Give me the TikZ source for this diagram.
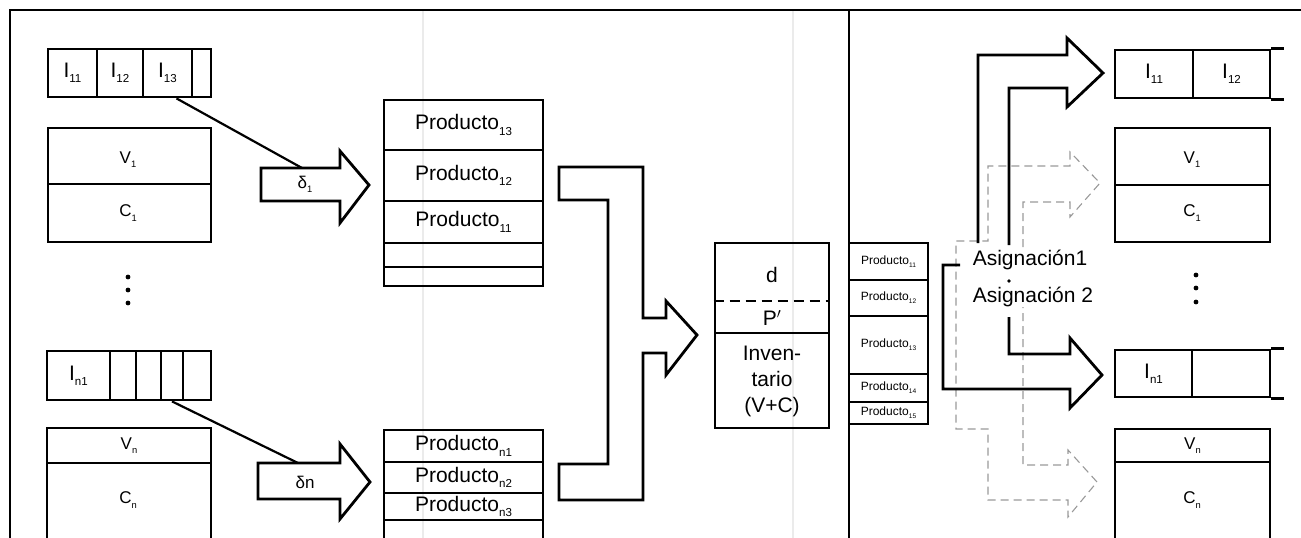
\documentclass[tikz,border=0pt]{standalone}
\usepackage{fontspec}
\setmainfont{Liberation Sans}
\newcommand\lo[1]{\raisebox{-0.25em}{\scalebox{0.55}{#1}}}
\newcommand\Fb{\fontsize{21}{26}\selectfont}
\newcommand\Fs{\fontsize{17}{20}\selectfont}
\newcommand\Ft{\fontsize{12}{14}\selectfont}
\tikzset{
  cell/.style={draw, line width=2.8pt, inner sep=0pt, align=center},
  cellline/.style={line width=2.8pt},
  blockarrow/.style={draw, line width=2.8pt, line join=miter, fill=white},
  openarrow/.style={line width=2.8pt, line join=miter},
  ghost/.style={draw=black!40, line width=1.1pt, dash pattern=on 8pt off 5pt},
  frameline/.style={line width=1.8pt},
  foldline/.style={draw=black!8, line width=1.2pt},
  conn/.style={line width=2.2pt},
  lbl/.style={inner sep=1pt}
}
\newcommand\bx[6]{\node[cell, minimum width={#4-#2}, minimum height={#5-#3}] (#1) at ({(#2+#4)/2},{(#3+#5)/2}) {#6};}
\begin{document}
\begin{tikzpicture}[x=1pt,y=-1pt]
\useasboundingbox (0,0) rectangle (1301,538);
\clip (0,0) rectangle (1301,538);
% scan folds
\draw[foldline] (423,10) -- (423,538);
\draw[foldline] (793,10) -- (793,538);
% frame
\draw[frameline] (10,538) -- (10,10) -- (1301,10);
\draw[frameline] (849,10) -- (849,538);

% ---------- left column ----------
\bx{li11}{48}{49}{97}{97}{\Fb I\lo{11}}
\bx{li12}{97}{49}{143}{97}{\Fb I\lo{12}}
\bx{li13}{143}{49}{192}{97}{\Fb I\lo{13}}
\bx{li14}{192}{49}{211}{97}{}
\bx{lv1}{48}{128}{211}{184}{}
\node[lbl] (lv1l) at (128,160) {\Fs V\lo{1}};
\bx{lc1}{48}{184}{211}{242}{}
\node[lbl] (lc1l) at (128,213) {\Fs C\lo{1}};
\fill (128,277) circle (2.4) (128,290) circle (2.4) (128,303) circle (2.4);
\bx{lin1}{47}{351}{110}{400}{\Fb I\lo{n1}}
\bx{lin2}{110}{351}{136}{400}{}
\bx{lin3}{136}{351}{161}{400}{}
\bx{lin4}{161}{351}{183}{400}{}
\bx{lin5}{183}{351}{211}{400}{}
\bx{lvn}{47}{428}{211}{463}{\Fs V\lo{n}}
\bx{lcn}{47}{463}{211}{590}{}
\node[lbl] (lcnl) at (128,500) {\Fs C\lo{n}};

% delta arrows
\draw[blockarrow] (261,168) -- (340,168) -- (340,151) -- (369,185) -- (340,223) -- (340,201) -- (261,201) -- cycle;
\coordinate (d1top) at (302,168);
\node[lbl] (d1) at (305,184) {\Fs δ\lo{1}};
\draw[conn] ([xshift=9pt]li13.south) -- (d1top);
\draw[blockarrow] (258,463) -- (340,463) -- (340,444) -- (370,482) -- (340,519) -- (340,499) -- (258,499) -- cycle;
\coordinate (dntop) at (298,463);
\node[lbl] (dn) at (305,482) {\Fs δn};
\draw[conn] (lin4.south) -- (dntop);

% ---------- product stacks ----------
\bx{p13}{384}{100}{543}{150}{\Fb Producto\lo{13}}
\bx{p12}{384}{150}{543}{201}{\Fb Producto\lo{12}}
\bx{p11}{384}{201}{543}{243}{\Fb Producto\lo{11}}
\bx{pe1}{384}{243}{543}{267}{}
\bx{pe2}{384}{267}{543}{286}{}
\bx{pn1}{384}{430}{543}{462}{\Fb Producto\lo{n1}}
\bx{pn2}{384}{462}{543}{493}{\Fb Producto\lo{n2}}
\bx{pn3}{384}{493}{543}{520}{\Fb Producto\lo{n3}}
\bx{pn4}{384}{520}{543}{590}{}

% merge arrow
\draw[blockarrow] (559,167) -- (643,167) -- (643,318) -- (666,318) -- (666,301) -- (697,335) -- (666,375) -- (666,353) -- (643,353) -- (643,500) -- (559,500) -- (559,464) -- (608,464) -- (608,200) -- (559,200) -- cycle;

% ---------- inventory ----------
\bx{invtop}{715}{243}{829}{333}{}
\draw[line width=2pt, dash pattern=on 10pt off 6pt] (invtop.west |- 0,301) -- (invtop.east |- 0,301);
\node[lbl] (dl) at (772,275) {\Fb d};
\node[lbl] (pl) at (772,318) {\Fb P$'$};
\bx{inv}{715}{333}{829}{428}{}
\node[lbl, align=center, font=\Fb] (invl) at (772,381) {Inven-\\tario\\(V+C)};

\bx{q11}{849}{243}{928}{280}{\Ft Producto\lo{11}}
\bx{q12}{849}{280}{928}{316}{\Ft Producto\lo{12}}
\bx{q13}{849}{316}{928}{374}{\Ft Producto\lo{13}}
\bx{q14}{849}{374}{928}{402}{\Ft Producto\lo{14}}
\bx{q15}{849}{402}{928}{424}{\Ft Producto\lo{15}}

% ---------- right column ----------
\bx{ri11}{1115}{50}{1193}{98}{\Fb I\lo{11}}
\bx{ri12}{1193}{50}{1270}{98}{\Fb I\lo{12}}
\draw[cellline] (ri12.north east) -- ++(13,0) (ri12.south east) -- ++(13,0);
\bx{rv1}{1115}{128}{1270}{185}{}
\node[lbl] (rv1l) at (1192,160) {\Fs V\lo{1}};
\bx{rc1}{1115}{185}{1270}{242}{}
\node[lbl] (rc1l) at (1192,213) {\Fs C\lo{1}};
\fill (1196,275) circle (2.4) (1196,288) circle (2.4) (1196,302) circle (2.4);
\bx{rin1}{1115}{350}{1192}{397}{\Fb I\lo{n1}}
\bx{rin2}{1192}{350}{1270}{397}{}
\draw[cellline] (rin2.north east) -- ++(13,0) (rin2.south east) -- ++(13,0);
\bx{rvn}{1115}{429}{1270}{462}{\Fs V\lo{n}}
\bx{rcn}{1115}{462}{1270}{590}{}
\node[lbl] (rcnl) at (1192,500) {\Fs C\lo{n}};

% assignment arrows
\draw[ghost] (1023,247) -- (1023,202) -- (1070,202) -- (1070,217) -- (1100,183) -- (1070,152) -- (1070,166) -- (988,166) -- (988,241) -- (956,241) -- (956,429) -- (988,429) -- (988,500) -- (1068,500) -- (1068,517) -- (1097,482) -- (1068,450) -- (1068,465) -- (1023,465) -- (1023,307);
\draw[openarrow] (978,243) -- (978,55) -- (1067,55) -- (1067,38) -- (1103,73) -- (1067,107) -- (1067,88) -- (1009,88) -- (1009,245);
\draw[openarrow] (960,265) -- (943,265) -- (943,389) -- (1070,389) -- (1070,408) -- (1102,375) -- (1070,338) -- (1070,354) -- (1009,354) -- (1009,317);
\node[lbl] (asig1) at (1030,260) {\Fb Asignación1};
\node[lbl] (asig2) at (1033,297) {\Fb Asignación 2};
\fill (1009,281) circle (1.8);
\end{tikzpicture}
\end{document}
